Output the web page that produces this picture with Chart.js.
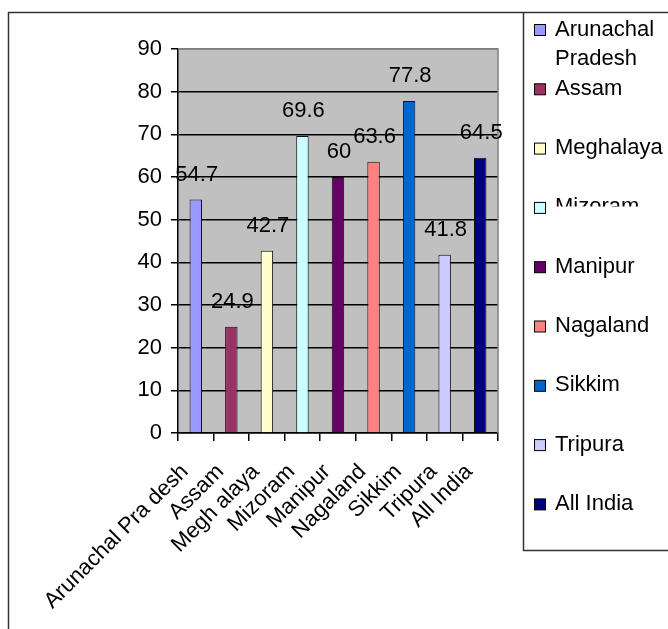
<!DOCTYPE html>
<html>
<head>
<meta charset="utf-8">
<script src="https://cdn.jsdelivr.net/npm/chart.js@4/dist/chart.umd.min.js"></script>
<style>
  html, body { margin: 0; padding: 0; background: #fff; }
  canvas { display: block; }
</style>
</head>
<body>
<canvas id="literacyChart" width="668" height="629"></canvas>
<script>
// categories (axis labels keep the odd spacing seen in the picture)
const axisLabels = ['Arunachal Pra desh', 'Assam', 'Megh alaya', 'Mizoram', 'Manipur', 'Nagaland', 'Sikkim', 'Tripura', 'All India'];
const legendLabels = [['Arunachal', 'Pradesh'], ['Assam'], ['Meghalaya'], ['Mizoram'], ['Manipur'], ['Nagaland'], ['Sikkim'], ['Tripura'], ['All India']];
const values = [54.7, 24.9, 42.7, 69.6, 60, 63.6, 77.8, 41.8, 64.5];
const barColors = ['#9999FF', '#993366', '#FFFFCC', '#CCFFFF', '#660066', '#FF8080', '#0066CC', '#CCCCFF', '#000080'];
const yTicks = [0, 10, 20, 30, 40, 50, 60, 70, 80, 90];

const FONT = 'Liberation Sans, Arial, sans-serif';
const ctx = document.getElementById('literacyChart').getContext('2d');

// gray plot background + gray top/right edge
const plotArea = {
    id: 'plotArea',
    beforeDraw(chart) {
        const a = chart.chartArea;
        const c = chart.ctx;
        c.save();
        c.fillStyle = '#C0C0C0';
        c.fillRect(a.left, a.top, a.right - a.left, a.bottom - a.top);
        c.restore();
    },
    beforeDatasetsDraw(chart) {
        const a = chart.chartArea;
        const c = chart.ctx;
        c.save();
        c.strokeStyle = '#808080';
        c.lineWidth = 1.5;
        c.beginPath();
        c.moveTo(a.left, a.top);
        c.lineTo(a.right, a.top);
        c.lineTo(a.right, a.bottom);
        c.stroke();
        c.restore();
    }
};

// value labels over each bar
const valueLabels = {
    id: 'valueLabels',
    afterDatasetsDraw(chart) {
        const c = chart.ctx;
        const meta = chart.getDatasetMeta(0);
        c.save();
        c.font = '22px ' + FONT;
        c.fillStyle = '#000';
        c.textAlign = 'center';
        c.textBaseline = 'alphabetic';
        meta.data.forEach((bar, i) => {
            c.fillText(String(values[i]), bar.x + 1, bar.y - 19);
        });
        c.restore();
    }
};

// outer frame and the excel style legend box on the right
const frameAndLegend = {
    id: 'frameAndLegend',
    afterDraw(chart) {
        const c = chart.ctx;
        const W = chart.width, H = chart.height;
        c.save();
        c.strokeStyle = '#333';
        c.lineWidth = 1.5;
        c.beginPath();
        c.moveTo(8.5, H);
        c.lineTo(8.5, 12.5);
        c.lineTo(W, 12.5);
        c.stroke();

        // legend box
        c.beginPath();
        c.moveTo(W, 550.5);
        c.lineTo(523.5, 550.5);
        c.lineTo(523.5, 12.5);
        c.stroke();

        c.font = '22px ' + FONT;
        c.textAlign = 'left';
        c.textBaseline = 'alphabetic';
        legendLabels.forEach((lines, i) => {
            const cy = 30 + i * 59.3;
            c.fillStyle = barColors[i];
            c.fillRect(534.5, cy - 5.5, 11, 11);
            c.strokeStyle = '#000';
            c.lineWidth = 1;
            c.strokeRect(534.5, cy - 5.5, 11, 11);
            c.fillStyle = '#000';
            const base = cy + 5.5;
            if (lines[0] === 'Mizoram') {
                // only the top of this label shows in the original
                c.save();
                c.beginPath();
                c.rect(550, base - 20, 118, 13);
                c.clip();
                c.fillText(lines[0], 555, base);
                c.restore();
            } else {
                lines.forEach((t, k) => c.fillText(t, 555, base + k * 29.3));
            }
        });
        c.restore();
    }
};

new Chart(ctx, {
    type: 'bar',
    data: {
        labels: axisLabels,
        datasets: [{
            data: values,
            backgroundColor: barColors,
            borderColor: '#111',
            borderWidth: 1,
            barPercentage: 0.35,
            categoryPercentage: 1
        }]
    },
    options: {
        responsive: false,
        animation: false,
        devicePixelRatio: 1,
        layout: {
            padding: { left: 0, top: 49, right: 170, bottom: 0 }
        },
        plugins: {
            legend: { display: false },
            tooltip: { enabled: false }
        },
        scales: {
            x: {
                offset: true,
                grid: {
                    offset: true,
                    drawOnChartArea: false,
                    drawTicks: true,
                    tickLength: 8,
                    color: '#000',
                    lineWidth: 1.5
                },
                border: { display: true, color: '#000', width: 1.5 },
                ticks: {
                    autoSkip: false,
                    minRotation: 45,
                    maxRotation: 45,
                    padding: 18,
                    labelOffset: -11,
                    color: '#000',
                    font: { family: FONT, size: 22 }
                },
                afterFit(scale) { scale.height = 196; }
            },
            y: {
                min: 0,
                max: 90,
                afterBuildTicks(scale) {
                    scale.ticks = yTicks.map(v => ({ value: v }));
                },
                grid: {
                    color: c => (c.tick && c.tick.value === 90 ? '#808080' : '#000'),
                    tickColor: '#000',
                    lineWidth: 1.5,
                    tickLength: 7
                },
                border: { display: true, color: '#000', width: 1.5 },
                ticks: {
                    padding: 9,
                    color: '#000',
                    font: { family: FONT, size: 22 }
                },
                afterFit(scale) { scale.width = 178; }
            }
        }
    },
    plugins: [plotArea, valueLabels, frameAndLegend]
});
</script>
</body>
</html>
